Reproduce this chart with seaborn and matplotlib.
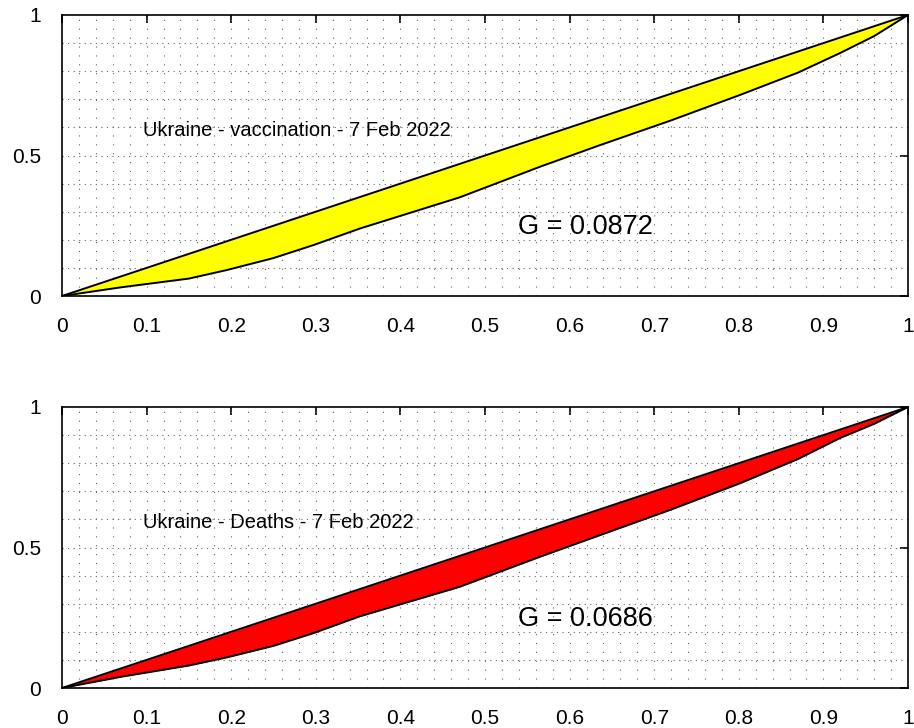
import numpy as np
import pandas as pd
import matplotlib
matplotlib.use("Agg")
import matplotlib.pyplot as plt
import seaborn as sns

# Data
pop_share = [0, 0.07, 0.15, 0.195, 0.25, 0.297, 0.352, 0.47, 0.565, 0.636, 0.72, 0.801, 0.87, 0.92, 0.96, 1]
vacc_share = [0, 0.031, 0.062, 0.0925, 0.135, 0.181, 0.24, 0.351, 0.46, 0.537, 0.625, 0.715, 0.795, 0.865, 0.925, 1]
death_share = [0, 0.04, 0.08, 0.109, 0.15, 0.195, 0.255, 0.36, 0.467, 0.544, 0.635, 0.728, 0.815, 0.89, 0.94, 1]
panel_titles = ["Ukraine - vaccination - 7 Feb 2022", "Ukraine - Deaths - 7 Feb 2022"]
gini_labels = ["G = 0.0872", "G = 0.0686"]
fill_colors = ["#ffff00", "#ff0000"]
x_ticks = [0, 0.1, 0.2, 0.3, 0.4, 0.5, 0.6, 0.7, 0.8, 0.9, 1]
x_tick_labels = ["0", "0.1", "0.2", "0.3", "0.4", "0.5", "0.6", "0.7", "0.8", "0.9", "1"]
y_ticks = [0, 0.5, 1]
y_tick_labels = ["0", "0.5", "1"]

sns.set_style("white")
plt.rcParams['font.family'] = ['Liberation Sans', 'DejaVu Sans']
plt.rcParams['text.color'] = 'black'

fig = plt.figure(figsize=(9.14, 7.28), dpi=100)
left = 62 / 914
width = 846 / 914
height = 281 / 728
bottoms = [1 - 296 / 728, 1 - 688 / 728]

for i, series in enumerate([vacc_share, death_share]):
    ax = fig.add_axes([left, bottoms[i], width, height])
    df = pd.DataFrame({"p": pop_share, "l": series})
    eq = pd.DataFrame({"p": [0, 1], "l": [0, 1]})
    ax.fill_between(df["p"], df["p"], df["l"], color=fill_colors[i], zorder=2, linewidth=0)
    sns.lineplot(data=eq, x="p", y="l", ax=ax, color="black", lw=1.4, zorder=3, sort=False)
    sns.lineplot(data=df, x="p", y="l", ax=ax, color="black", lw=1.4, zorder=3, sort=False)
    # dotted grid
    for gx in np.arange(0.02, 1.0, 0.02):
        ax.axvline(gx, color="#666666", lw=0.8, ls=(0, (1, 7)), zorder=1)
    for gy in np.arange(0.1, 1.0, 0.1):
        ax.axhline(gy, color="#666666", lw=0.8, ls=(0, (1, 4)), zorder=1)
    ax.set_xlim(0, 1)
    ax.set_ylim(0, 1)
    ax.set_xticks(x_ticks)
    ax.set_xticklabels(x_tick_labels)
    ax.set_yticks(y_ticks)
    ax.set_yticklabels(y_tick_labels)
    ax.set_xlabel("")
    ax.set_ylabel("")
    ax.tick_params(direction="in", length=6, width=1.2, top=True, right=True,
                   labelsize=15, pad=15, colors="black")
    for s in ax.spines.values():
        s.set_color("black")
        s.set_linewidth(1.2)
    ax.text(0.096, 0.59, panel_titles[i], fontsize=14.5, va="center", ha="left",
            color="black", zorder=4)
    ax.text(0.539, 0.245, gini_labels[i], fontsize=19.5, va="center", ha="left",
            color="black", zorder=4)

fig.savefig("out.png", dpi=100, facecolor="white")
